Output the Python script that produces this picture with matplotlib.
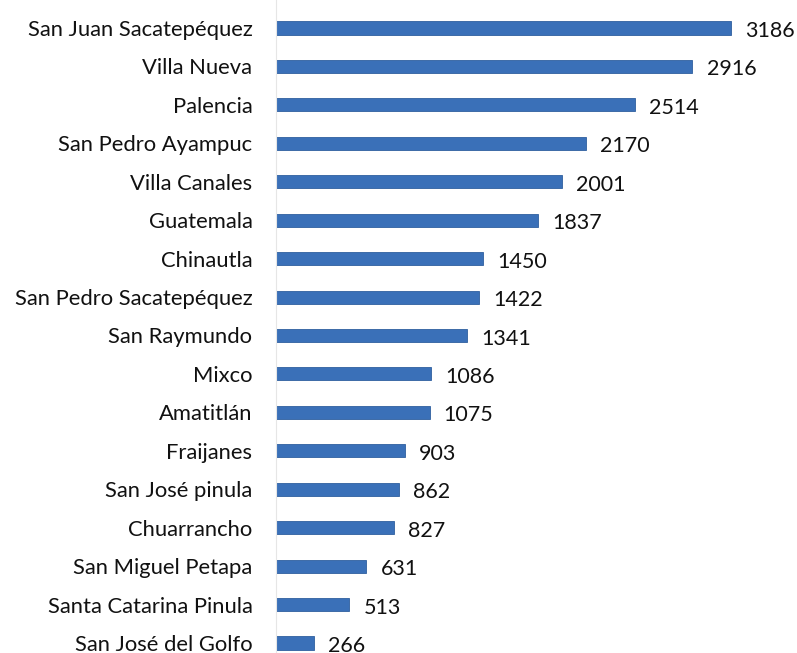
import matplotlib
matplotlib.use("Agg")
import matplotlib.pyplot as plt

categories = ["San Juan Sacatepéquez", "Villa Nueva", "Palencia", "San Pedro Ayampuc",
              "Villa Canales", "Guatemala", "Chinautla", "San Pedro Sacatepéquez",
              "San Raymundo", "Mixco", "Amatitlán", "Fraijanes", "San José pinula",
              "Chuarrancho", "San Miguel Petapa", "Santa Catarina Pinula", "San José del Golfo"]
values = [3186, 2916, 2514, 2170, 2001, 1837, 1450, 1422, 1341, 1086, 1075, 903, 862, 827, 631, 513, 266]

plt.rcParams['font.family'] = ['Lato', 'DejaVu Sans']

fig = plt.figure(figsize=(7.97, 6.53), dpi=100)
ax = fig.add_axes([276/797, 0, 521/797, 1])
pos = list(range(len(categories)))
ax.barh(pos, values, height=0.34, color="#3a70b8", edgecolor="#2f5f9f", linewidth=0.6)
ax.set_xlim(0, 521/0.1428)
ax.set_ylim(16.26, -0.728)
for p, v in zip(pos, values):
    ax.text(v + 100, p + 0.08, f"{v}", va="center", ha="left", fontsize=15.5, color="#111111")
ax.set_yticks(pos)
ax.set_yticklabels(categories, fontsize=15.8, color="#111111")
ax.tick_params(axis="y", length=0, pad=17)
ax.set_xticks([])
for s in ["top", "right", "bottom"]:
    ax.spines[s].set_visible(False)
ax.spines["left"].set_color("#e6e6e6")
ax.spines["left"].set_linewidth(0.8)
fig.savefig("out.png", dpi=100)
